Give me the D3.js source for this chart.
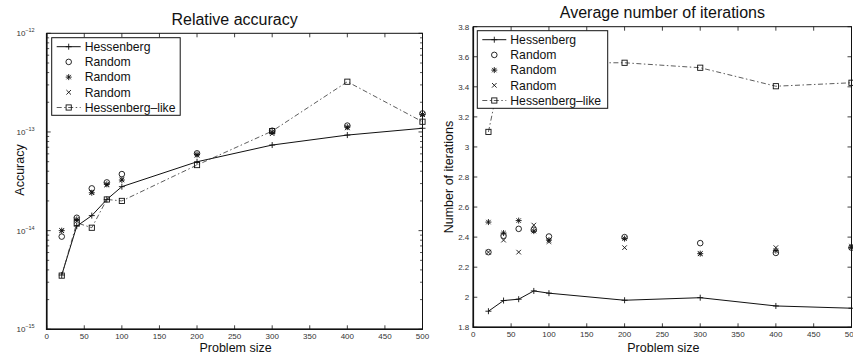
<!DOCTYPE html>
<html><head><meta charset="utf-8">
<script src="https://cdn.jsdelivr.net/npm/d3@7"></script>
<style>
body{margin:0;background:#fff;}
svg{font-family:"Liberation Sans",Arial,Helvetica,sans-serif;}
</style></head>
<body><svg id="c" width="853" height="357"></svg>
<script>
const sizes = [20,40,60,80,100,200,300,400,500];
const xTicks = [0,50,100,150,200,250,300,350,400,450,500];
const seriesNames = ["Hessenberg","Random","Random","Random","Hessenberg\u2013like"];

// Relative accuracy
const accHess     = [3.55e-15,1.11e-14,1.42e-14,2.07e-14,2.79e-14,4.99e-14,7.37e-14,9.3e-14,1.09e-13];
const accHessLike = [3.5e-15,1.2e-14,1.07e-14,2.07e-14,2.0e-14,4.62e-14,1.02e-13,3.23e-13,1.27e-13];
const accRandO    = [8.7e-15,1.35e-14,2.68e-14,3.08e-14,3.74e-14,6.07e-14,1.03e-13,1.16e-13,1.54e-13];
const accRandStar = [1.0e-14,1.3e-14,2.42e-14,2.95e-14,3.26e-14,5.9e-14,1.0e-13,1.12e-13,1.5e-13];
const accRandX    = [1.0e-14,1.25e-14,2.45e-14,2.9e-14,3.3e-14,5.8e-14,9.6e-14,1.1e-13,1.5e-13];
const accTicks = [1e-15,1e-14,1e-13,1e-12];
const accTickExp = ["\u221215","\u221214","\u221213","\u221212"];

// Average number of iterations
const itHess     = [1.907,1.978,1.987,2.042,2.027,1.98,1.997,1.942,1.927];
const itHessLike = [3.1,3.58,3.56,3.55,3.56,3.56,3.527,3.404,3.427];
const itRandO    = [2.3,2.409,2.455,2.449,2.404,2.40,2.36,2.295,2.33];
const itRandStar = [2.5,2.427,2.51,2.44,2.38,2.39,2.29,2.31,2.33];
const itRandX    = [2.3,2.38,2.30,2.48,2.37,2.33,2.29,2.33,2.34];
const itTicks = [1.8,2,2.2,2.4,2.6,2.8,3,3.2,3.4,3.6,3.8];

const svg = d3.select("#c");
const ink = "#111";

function marker(g, type, x, y){
  const s = 3;
  if(type==="plus"){
    g.append("path").attr("d",`M${x-s},${y}H${x+s}M${x},${y-s}V${y+s}`).attr("stroke",ink).attr("stroke-width",0.9).attr("fill","none");
  } else if(type==="circle"){
    g.append("circle").attr("cx",x).attr("cy",y).attr("r",2.8).attr("stroke",ink).attr("stroke-width",0.9).attr("fill","none");
  } else if(type==="star"){
    const d=2.2;
    g.append("path").attr("d",`M${x-s},${y}H${x+s}M${x},${y-s}V${y+s}M${x-d},${y-d}L${x+d},${y+d}M${x-d},${y+d}L${x+d},${y-d}`).attr("stroke",ink).attr("stroke-width",0.9).attr("fill","none");
  } else if(type==="x"){
    const d=2.3;
    g.append("path").attr("d",`M${x-d},${y-d}L${x+d},${y+d}M${x-d},${y+d}L${x+d},${y-d}`).attr("stroke",ink).attr("stroke-width",0.9).attr("fill","none");
  } else if(type==="square"){
    g.append("rect").attr("x",x-2.6).attr("y",y-2.6).attr("width",5.2).attr("height",5.2).attr("stroke",ink).attr("stroke-width",0.9).attr("fill","none");
  }
}

function drawPanel(cfg){
  const {x0,x1,y0,y1,y,title,titleY,ylabel,ylabelX,ylabelY,series,legend,isLog} = cfg;
  const x = d3.scaleLinear().domain([0,500]).range([x0,x1]);
  const g = svg.append("g");
  // data
  series.forEach(s=>{
    if(s.line){
      const line = d3.line().x((d,i)=>x(sizes[i])).y(d=>y(d));
      g.append("path").datum(s.values).attr("d",line).attr("fill","none")
        .attr("stroke",s.dash? "#333":ink).attr("stroke-width",s.dash?0.8:1)
        .attr("stroke-dasharray",s.dash||null);
    }
    s.values.forEach((v,i)=>marker(g,s.marker,x(sizes[i]),y(v)));
  });
  // frame
  g.append("rect").attr("x",x0).attr("y",y0).attr("width",x1-x0).attr("height",y1-y0)
    .attr("fill","none").attr("stroke",ink).attr("stroke-width",1);
  g.append("path").attr("d",`M${x0},${y0}V${y1}H${x1}`).attr("stroke",ink).attr("stroke-width",1.6).attr("fill","none");
  // x ticks
  xTicks.forEach(t=>{
    const px=x(t);
    g.append("path").attr("d",`M${px},${y1}V${y1-4}M${px},${y0}V${y0+4}`).attr("stroke",ink).attr("stroke-width",0.8);
    g.append("text").attr("x",px).attr("y",y1+10).attr("text-anchor","middle").attr("font-size",8).attr("fill","#333").text(t);
  });
  // y ticks
  if(isLog){
    accTicks.forEach((t,i)=>{
      const py=y(t);
      g.append("path").attr("d",`M${x0},${py}H${x0+4}M${x1},${py}H${x1-4}`).attr("stroke",ink).attr("stroke-width",0.8);
      const tx=g.append("text").attr("x",x0-12).attr("y",py+3).attr("text-anchor","end").attr("font-size",8).attr("fill","#333");
      tx.append("tspan").text("10");
      tx.append("tspan").attr("dy",-4).attr("font-size",5.5).text(accTickExp[i]);
      if(i<accTicks.length-1){
        for(let m=2;m<=9;m++){
          const pm=y(t*m);
          g.append("path").attr("d",`M${x0},${pm}H${x0+2.5}M${x1},${pm}H${x1-2.5}`).attr("stroke",ink).attr("stroke-width",0.7);
        }
      }
    });
  } else {
    itTicks.forEach(t=>{
      const py=y(t);
      g.append("path").attr("d",`M${x0},${py}H${x0+4}M${x1},${py}H${x1-4}`).attr("stroke",ink).attr("stroke-width",0.8);
      g.append("text").attr("x",x0-4).attr("y",py+3).attr("text-anchor","end").attr("font-size",8).attr("fill","#333").text(d3.format("~g")(t));
    });
  }
  // labels
  svg.append("text").attr("x",(x0+x1)/2).attr("y",titleY).attr("text-anchor","middle").attr("font-size",16).attr("fill",ink).text(title);
  svg.append("text").attr("x",(x0+x1)/2+1).attr("y",352).attr("text-anchor","middle").attr("font-size",12.5).attr("fill",ink).text("Problem size");
  svg.append("text").attr("transform",`translate(${ylabelX},${ylabelY}) rotate(-90)`).attr("text-anchor","middle").attr("font-size",12.5).attr("fill",ink).text(ylabel);
  // legend
  const lg = svg.append("g");
  lg.append("rect").attr("x",legend.x).attr("y",legend.y).attr("width",legend.w).attr("height",legend.h)
    .attr("fill","#fff").attr("stroke",ink).attr("stroke-width",1);
  const types = ["plus","circle","star","x","square"];
  seriesNames.forEach((nm,i)=>{
    const cy = legend.y+9+i*15.2;
    const lx0 = legend.x+5, lx1 = legend.x+29, cx=(lx0+lx1)/2;
    if(i===0) lg.append("path").attr("d",`M${lx0},${cy}H${lx1}`).attr("stroke",ink).attr("stroke-width",1);
    if(i===4) lg.append("path").attr("d",`M${lx0},${cy}H${lx1}`).attr("stroke","#333").attr("stroke-width",0.8).attr("stroke-dasharray","5,2.5,1.5,2.5");
    marker(lg,types[i],cx,cy);
    lg.append("text").attr("x",legend.x+33).attr("y",cy+4.3).attr("font-size",12.2).attr("fill",ink).text(nm);
  });
}

const yAcc = d3.scaleLog().domain([1e-15,1e-12]).range([329.3,33.3]);
drawPanel({x0:46.7,x1:422.5,y0:33.3,y1:329.3,y:yAcc,isLog:true,
  title:"Relative accuracy",titleY:25,ylabel:"Accuracy",ylabelX:24,ylabelY:170,
  legend:{x:51.7,y:37.7,w:128.5,h:77.6},
  series:[
    {values:accHess,marker:"plus",line:true},
    {values:accRandO,marker:"circle"},
    {values:accRandStar,marker:"star"},
    {values:accRandX,marker:"x"},
    {values:accHessLike,marker:"square",line:true,dash:"5,2.5,1.5,2.5"}
  ]});

const yIt = d3.scaleLinear().domain([1.8,3.8]).range([327.3,26.7]);
drawPanel({x0:473.3,x1:851.5,y0:26.7,y1:327.3,y:yIt,isLog:false,
  title:"Average number of iterations",titleY:17.5,ylabel:"Number of iterations",ylabelX:453,ylabelY:177,
  legend:{x:477.3,y:30.7,w:130.4,h:77.6},
  series:[
    {values:itHess,marker:"plus",line:true},
    {values:itRandO,marker:"circle"},
    {values:itRandStar,marker:"star"},
    {values:itRandX,marker:"x"},
    {values:itHessLike,marker:"square",line:true,dash:"5,2.5,1.5,2.5"}
  ]});
</script></body></html>
